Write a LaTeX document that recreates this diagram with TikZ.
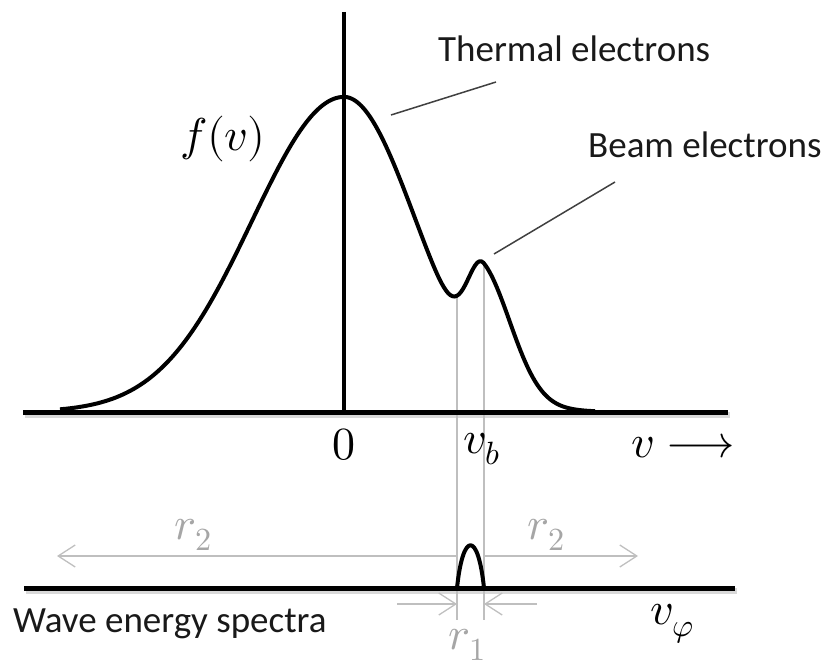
\documentclass[tikz,border=0pt]{standalone}
\usepackage{fontspec}
\usepackage{unicode-math}
\setmainfont{Carlito}
\setmathfont{Latin Modern Math}
\usetikzlibrary{arrows.meta}
\definecolor{guide}{HTML}{BFBFBF}
\definecolor{labgray}{HTML}{A6A6A6}
\definecolor{leader}{HTML}{404040}
\tikzset{
  axisline/.style={line width=5pt, black},
  axisshadow/.style={line width=6pt, black!15},
  curveline/.style={line width=4pt, black, line join=round},
  guideline/.style={line width=1.2pt, guide},
  dimarrow/.style={line width=1.3pt, guide, -{Straight Barb[length=17pt,width=22pt,line width=1.3pt]}},
  leaderline/.style={line width=1.5pt, leader},
  txt/.style={font=\fontsize{37}{44}\selectfont, text=black!90, inner sep=0pt},
  mth/.style={font=\fontsize{46}{54}\selectfont, inner sep=0pt},
  graymth/.style={mth, text=labgray},
}
\begin{document}
\begin{tikzpicture}[x=1pt,y=-1pt]
\useasboundingbox (0,0) rectangle (827,671);
% coordinates
\coordinate (ax1L) at (23,412);
\coordinate (ax1R) at (728,412);
\coordinate (vaxT) at (344,12);
\coordinate (vaxB) at (344,412);
\coordinate (ax2L) at (24,588);
\coordinate (ax2R) at (735,588);
\coordinate (valley) at (457,295);
\coordinate (bpeak) at (484,263);
\coordinate (valleyD) at (457,620);
\coordinate (bpeakD) at (484,620);
\coordinate (r2Ls) at (457,556);
\coordinate (r2Le) at (57,556);
\coordinate (r2Rs) at (484,556);
\coordinate (r2Re) at (638,556);
\coordinate (r1Ls) at (397,604);
\coordinate (r1Le) at (457,604);
\coordinate (r1Rs) at (537,604);
\coordinate (r1Re) at (484,604);
\coordinate (bumpL) at (457,588);
\coordinate (bumpR) at (484,588);
\coordinate (thA) at (391,115);
\coordinate (thB) at (496,82);
\coordinate (bmA) at (494,254);
\coordinate (bmB) at (615,182);
% shadows
\draw[axisshadow] ([xshift=2pt,yshift=-3pt]ax1L) -- ([xshift=2pt,yshift=-3pt]ax1R);
\draw[axisshadow] ([xshift=2pt,yshift=-3pt]ax2L) -- ([xshift=2pt,yshift=-3pt]ax2R);
% guides
\draw[guideline] (valley) -- (valleyD);
\draw[guideline] (bpeak) -- (bpeakD);
% axes
\draw[axisline] (ax1L) -- (ax1R);
\draw[line width=4.5pt] (vaxT) -- (vaxB);
\draw[axisline] (ax2L) -- (ax2R);
% distribution curve
\draw[curveline] plot[domain=60:595, samples=260, variable=\x]
  ({\x}, {412 - 315*exp(-((\x-344)/100)^2/(2*((\x<344) ? 0.92 : 0.72)^2))
              - 101*exp(-((\x-484)/100)^2/(2*((\x<484) ? 0.16 : 0.29)^2))});
% wave spectrum bump
\draw[line width=4pt, line join=round] (bumpL) .. controls (463,531) and (478,531) .. (bumpR);
% dimension arrows
\draw[dimarrow] (r2Ls) -- (r2Le);
\draw[dimarrow] (r2Rs) -- (r2Re);
\draw[dimarrow] (r1Ls) -- (r1Le);
\draw[dimarrow] (r1Rs) -- (r1Re);
% leaders
\draw[leaderline] (thA) -- (thB);
\draw[leaderline] (bmA) -- (bmB);
% texts
\node[txt, anchor=base west] (thermal) at (438,62) {Thermal electrons};
\node[txt, anchor=base west] (beam) at (588,158) {Beam electrons};
\node[txt, anchor=base west] (wave) at (13,632) {Wave energy spectra};
\node[mth] (fv) at (223,139) {$f(v)$};
\node[mth] (zero) at (344,445) {$0$};
\node[mth] (vb) at (482,449) {$v_b$};
\node[mth] (varrow) at (683,446) {$v\longrightarrow$};
\node[mth] (vphi) at (672,624) {$v_\varphi$};
\node[graymth] (r2l) at (193,535) {$r_2$};
\node[graymth] (r2r) at (546,535) {$r_2$};
\node[graymth] (r1) at (467,645) {$r_1$};
\end{tikzpicture}
\end{document}
